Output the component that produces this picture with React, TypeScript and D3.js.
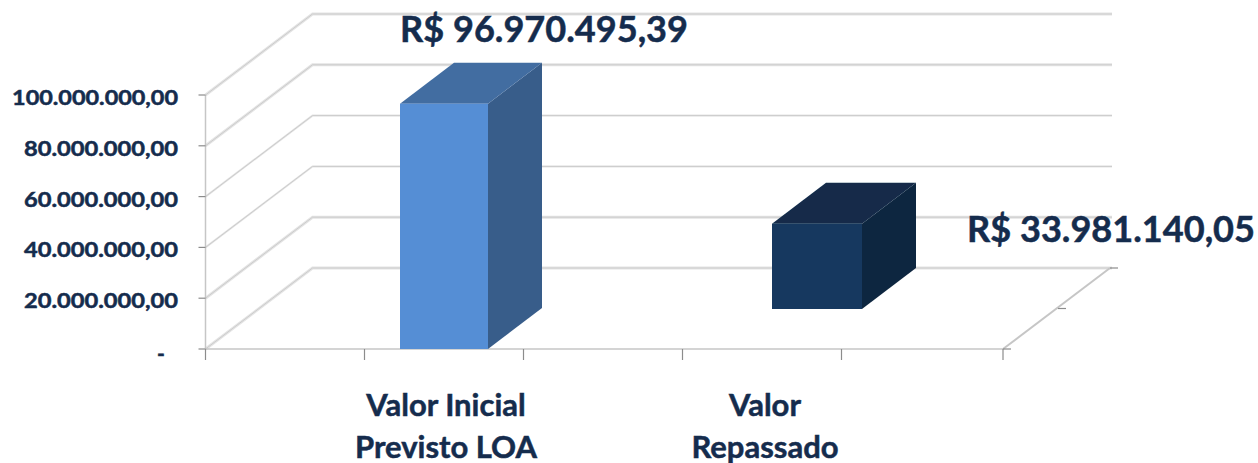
import React from "react";
import * as d3 from "d3";

const categories = [["Valor Inicial", "Previsto LOA"], ["Valor", "Repassado"]];
const values = [96970495.39, 33981140.05];
const valueLabels = ["R$ 96.970.495,39", "R$ 33.981.140,05"];
const tickValues = [0, 20000000, 40000000, 60000000, 80000000, 100000000];
const tickLabels = ["-", "20.000.000,00", "40.000.000,00", "60.000.000,00", "80.000.000,00", "100.000.000,00"];
const xTicks = [0, 1, 2, 3, 4, 5];
const barFronts = ["#558ed5", "#17375e"];
const barTops = ["#426da1", "#122c4a"];
const barSides = ["#385d8a", "#11263f"];

const W = 1258, H = 463;
const y = d3.scaleLinear().domain([0, 100000000]).range([349, 95]);
const x = d3.scaleLinear().domain([0, 4, 5]).range([205.5, 841.5, 1003]);
const DX = 107, DY = -81;
const dx = 54, dy = -41;
const barSlots = [[400, 488, 0], [772, 862, 40]];
const labelPos = [[544, 42], [1111, 242]];
const catX = [446, 765];
const textColor = "#152c4d";
const font = "Lato, 'Open Sans', sans-serif";
const poly = (p: number[][]) => p.map(q => q.join(",")).join(" ");

export default function App() {
  return (
    <svg width={W} height={H} style={{ position: "absolute", left: 0, top: 0, background: "#fff" }} fontFamily={font} fontWeight={700}>
      <defs><filter id="s" x="-5%" y="-5%" width="110%" height="110%"><feGaussianBlur stdDeviation="0.5" /></filter></defs>
      <g filter="url(#s)">
        {tickValues.map(t => {
          const heavy = t >= 80000000 || t <= 20000000;
          const pts = poly([[x(0), y(t)], [x(0) + DX, y(t) + DY], [x(5) + DX + 2, y(t) + DY]]);
          return (
            <g key={t} fill="none">
              <polyline points={pts} stroke="#e4e4e4" strokeWidth={heavy ? 3 : 2} />
              <polyline points={pts} stroke="#cccccc" strokeWidth={1} />
            </g>
          );
        })}
        <line x1={x(0)} x2={x(0)} y1={y(0)} y2={y(100000000)} stroke="#c6c6c6" strokeWidth={1.5} />
        <line x1={x(0)} x2={x(5)} y1={y(0)} y2={y(0)} stroke="#c6c6c6" strokeWidth={1.5} />
        <line x1={x(5)} x2={x(5) + DX} y1={y(0)} y2={y(0) + DY} stroke="#c6c6c6" strokeWidth={2} />
        {tickValues.map(t => (
          <line key={t} x1={x(0) - 7} x2={x(0)} y1={y(t)} y2={y(t)} stroke="#8c8c8c" strokeWidth={1.2} />
        ))}
        {xTicks.map(t => (
          <line key={t} x1={x(t)} x2={x(t)} y1={y(0)} y2={y(0) + 11} stroke="#8c8c8c" strokeWidth={1.2} />
        ))}
        <line x1={x(5)} x2={x(5) + 8} y1={y(0)} y2={y(0)} stroke="#8c8c8c" strokeWidth={1.2} />
        <line x1={x(5) + 55} x2={x(5) + 63} y1={y(0) + DY / 2} y2={y(0) + DY / 2} stroke="#8c8c8c" strokeWidth={1.2} />
        <line x1={x(5) + DX} x2={x(5) + DX + 8} y1={y(0) + DY} y2={y(0) + DY} stroke="#8c8c8c" strokeWidth={1.2} />
        {values.map((v, i) => {
          const [x0, x1, lift] = barSlots[i];
          const b = y(0) - lift, t = y(v) - lift + 1;
          return (
            <g key={i}>
              <polygon fill={barSides[i]} points={poly([[x1, t], [x1 + dx, t + dy], [x1 + dx, b + dy], [x1, b]])} />
              <polygon fill={barTops[i]} points={poly([[x0, t], [x1, t], [x1 + dx, t + dy], [x0 + dx, t + dy]])} />
              <rect x={x0} y={t} width={x1 - x0} height={b - t} fill={barFronts[i]} />
            </g>
          );
        })}
      </g>
      <g stroke={textColor} strokeWidth={0.5} fill={textColor}>
        {tickValues.map((t, i) => (
          i === 0 ? (
            <text key={t} x={161} y={y(t) + 12} textAnchor="middle" fontSize={21}>{tickLabels[i]}</text>
          ) : (
            <text key={t} x={178} y={y(t) + 10} textAnchor="end" fontSize={21}
              textLength={tickLabels[i].length * 11.85} lengthAdjust="spacingAndGlyphs">{tickLabels[i]}</text>
          )
        ))}
        {categories.map((lines, i) => lines.map((l, j) => (
          <text key={l} x={catX[i]} y={416 + j * 42} textAnchor="middle" fontSize={31}>{l}</text>
        )))}
        {valueLabels.map((l, i) => (
          <text key={l} x={labelPos[i][0]} y={labelPos[i][1]} textAnchor="middle" fontSize={36} textLength={288} lengthAdjust="spacingAndGlyphs">{l}</text>
        ))}
      </g>
    </svg>
  );
}
